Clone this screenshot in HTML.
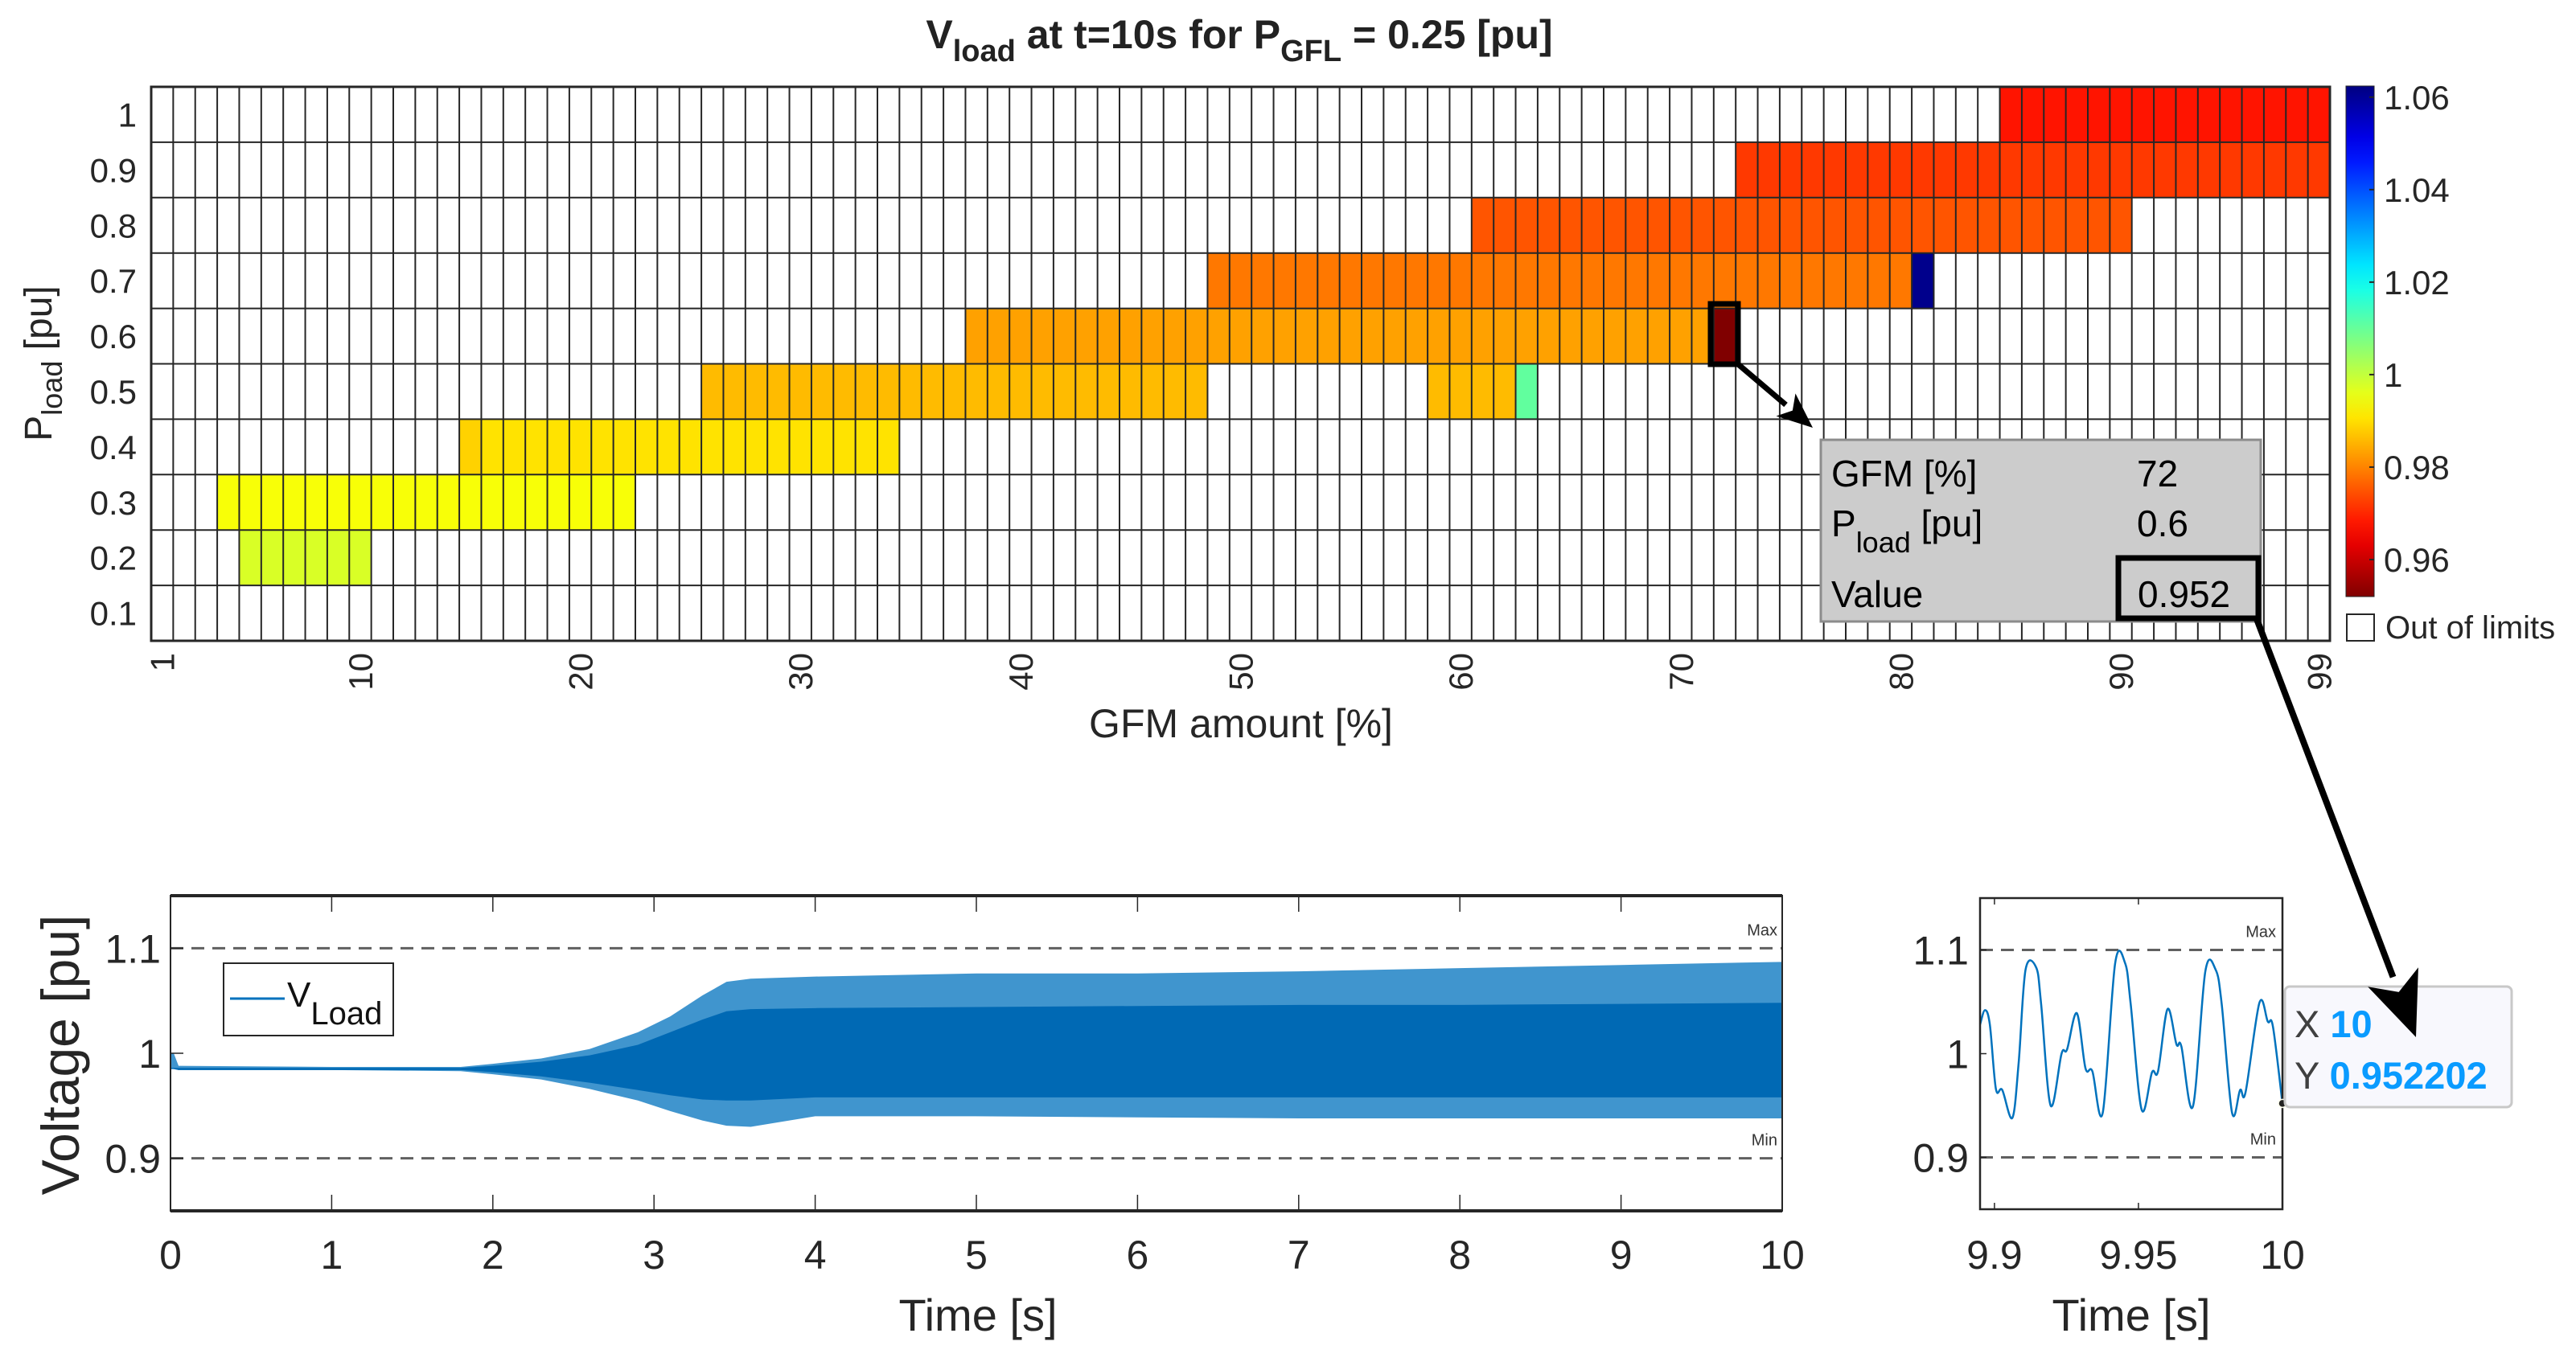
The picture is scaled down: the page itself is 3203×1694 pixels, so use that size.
<!DOCTYPE html>
<html><head><meta charset="utf-8"><style>
html,body{margin:0;padding:0;background:#fff}
svg{display:block;font-family:"Liberation Sans",Arial,sans-serif}
</style></head><body>
<svg id="fig" width="3203" height="1694" viewBox="0 0 3203 1694" xmlns="http://www.w3.org/2000/svg">
<rect x="0" y="0" width="3203" height="1694" fill="#fff"/>
<text x="1541" y="60" text-anchor="middle" font-size="50" font-weight="bold" fill="#222">V<tspan font-size="38" dy="16">load</tspan><tspan dy="-16"> at t=10s for P</tspan><tspan font-size="38" dy="16">GFL</tspan><tspan dy="-16"> = 0.25 [pu]</tspan></text>
<g id="heat"></g>
<g id="cbar"></g>
<g id="ts"></g>
<g id="zoomp"></g>
<g id="ann"></g>
</svg>
<script>
// ---------- heatmap data ----------
const gfmCategories = Array.from({length:99},(_,i)=>i+1);
const ploadCategories = [0.1,0.2,0.3,0.4,0.5,0.6,0.7,0.8,0.9,1];
const xTickLabels = [1,10,20,30,40,50,60,70,80,90,99];
const segRow   = [0.2,0.3,0.4,0.4,0.5,0.5,0.5,0.6,0.6,0.7,0.7,0.8,0.9,1.0];
const segStart = [5,4,15,16,26,59,63,38,72,49,81,61,73,85];
const segEnd   = [10,22,15,34,48,62,63,71,72,80,81,90,99,99];
const segValue = [0.9975,0.9942,0.9885,0.9904,0.986,0.986,1.0105,0.9832,0.952,0.9788,1.061,0.975,0.972,0.968];
const cbTicks = [0.96,0.98,1,1.02,1.04,1.06];
const cMin = 0.952, cMax = 1.0624;
// ---------- time-series data ----------
const envT      = [0,0.02,0.05,1,1.8,2.0,2.3,2.6,2.9,3.1,3.3,3.45,3.6,4,5,6,7,8,9,10];
const envUpper  = [1.0,1.0,0.988,0.987,0.987,0.99,0.995,1.004,1.02,1.035,1.055,1.068,1.071,1.073,1.076,1.076,1.078,1.081,1.084,1.087];
const envLower  = [0.985,0.985,0.984,0.984,0.983,0.98,0.975,0.966,0.955,0.945,0.936,0.931,0.93,0.94,0.94,0.939,0.938,0.938,0.938,0.938];
const coreUpper = [0.986,0.986,0.986,0.986,0.986,0.988,0.992,0.998,1.008,1.02,1.032,1.04,1.042,1.043,1.044,1.045,1.046,1.046,1.047,1.048];
const coreLower = [0.985,0.985,0.984,0.984,0.984,0.982,0.978,0.972,0.965,0.96,0.956,0.955,0.955,0.958,0.958,0.958,0.958,0.958,0.958,0.958];
const tsXTicks = [0,1,2,3,4,5,6,7,8,9,10];
const tsYTicks = [0.9,1,1.1];
const zoomT = [9.895,9.8967,9.8984,9.9005,9.9027,9.9062,9.9084,9.9108,9.9145,9.9162,9.9195,9.9233,9.9252,9.9286,9.9316,9.934,9.9376,9.9419,9.9454,9.9473,9.9511,9.9547,9.9568,9.9601,9.9632,9.9649,9.9689,9.9732,9.9768,9.9789,9.9825,9.9853,9.9872,9.992,9.9949,9.9967,10.0];
const zoomV = [1.028,1.042,1.028,0.966,0.965,0.938,0.991,1.081,1.083,1.048,0.950,1.0,1.004,1.039,0.986,0.983,0.943,1.087,1.087,1.048,0.946,0.982,0.983,1.043,1.009,1.007,0.949,1.079,1.081,1.048,0.943,0.965,0.963,1.049,1.031,1.026,0.952];
const zoomXTicks = [9.9,9.95,10];
const zoomXLabels = ["9.9","9.95","10"];
const limitMax = 1.1, limitMin = 0.9;

const NS="http://www.w3.org/2000/svg";
function mk(tag,attrs,parent,txt){const e=document.createElementNS(NS,tag);for(const k in attrs)e.setAttribute(k,attrs[k]);if(txt!==undefined)e.textContent=txt;parent.appendChild(e);return e;}
function clamp(v){return Math.max(0,Math.min(1,v));}
function jet(t){const r=clamp(1.5-Math.abs(4*t-3)),g=clamp(1.5-Math.abs(4*t-2)),b=clamp(1.5-Math.abs(4*t-1));
 return `rgb(${Math.round(r*255)},${Math.round(g*255)},${Math.round(b*255)})`;}
function colorOf(v){return jet((cMax-v)/(cMax-cMin));}

// ---------- heatmap ----------
const heat=document.getElementById('heat');
const HX0=188,HX1=2897,HY0=108,HY1=797;
const cw=(HX1-HX0)/gfmCategories.length, rh=(HY1-HY0)/ploadCategories.length;
const hx=c=>HX0+(c-1)*cw;
const hy=p=>HY1-(Math.round(p*10))*rh;
for(let i=0;i<segRow.length;i++){
  for(let c=segStart[i];c<=segEnd[i];c++){
    const r=mk('rect',{x:hx(c),y:hy(segRow[i]),width:cw,height:rh,fill:colorOf(segValue[i])},heat);
    
    
  }
}
const grid=mk('g',{stroke:'#262626','stroke-width':2},heat);


for(let c=0;c<=gfmCategories.length;c++) mk('line',{x1:HX0+c*cw,x2:HX0+c*cw,y1:HY0,y2:HY1},grid);
for(let r=0;r<=ploadCategories.length;r++) mk('line',{x1:HX0,x2:HX1,y1:HY0+r*rh,y2:HY0+r*rh},grid);
mk('rect',{x:HX0,y:HY0,width:HX1-HX0,height:HY1-HY0,fill:'none',stroke:'#262626','stroke-width':3},heat);
ploadCategories.forEach(p=>{
  const t=mk('text',{x:170,y:hy(p)+rh/2+15,'text-anchor':'end','font-size':42,fill:'#262626'},heat,String(p));
  
  
});
xTickLabels.forEach(v=>{
  const x=hx(v)+cw/2+15;
  const t=mk('text',{x:x,y:812,transform:`rotate(-90 ${x} 812)`,'text-anchor':'end','font-size':42,fill:'#262626'},heat,String(v));
  
  
});
let t=mk('text',{x:1543,y:917,'text-anchor':'middle','font-size':50,fill:'#262626'},heat,'GFM amount [%]');


t=mk('text',{x:64,y:452,transform:'rotate(-90 64 452)','text-anchor':'middle','font-size':48,fill:'#262626'},heat);
t.innerHTML='P<tspan font-size="36" dy="13">load</tspan><tspan dy="-13"> [pu]</tspan>';



// ---------- colorbar ----------
const cb=document.getElementById('cbar');
const CX=2917,CW=35,CY0=107,CY1=742;
const cy=v=>CY1-(v-cMin)/(cMax-cMin)*(CY1-CY0);
const defs=mk('defs',{},cb);
const lg=mk('linearGradient',{id:'jetg',x1:0,y1:0,x2:0,y2:1},defs);
for(let i=0;i<=20;i++){mk('stop',{offset:i/20,'stop-color':jet(i/20)},lg);}
mk('rect',{x:CX,y:CY0,width:CW,height:CY1-CY0,fill:'url(#jetg)',stroke:'#262626','stroke-width':1},cb);
cbTicks.forEach(v=>{
  mk('line',{x1:CX+CW-6,x2:CX+CW,y1:cy(v),y2:cy(v),stroke:'#262626','stroke-width':2},cb);
  const tt=mk('text',{x:2964,y:cy(v)+15,'font-size':42,fill:'#262626'},cb,String(v));
  
  
});
let r=mk('rect',{x:2918,y:764,width:34,height:33,fill:'#fff',stroke:'#262626','stroke-width':2},cb);


t=mk('text',{x:2966,y:794,'font-size':40,fill:'#262626'},cb,'Out of limits');



// ---------- time series ----------
const ts=document.getElementById('ts');
const AX0=212,AX1=2216,AY0=1114,AY1=1506,YMIN=0.85,YMAX=1.15;
const sx=v=>AX0+v/10*(AX1-AX0);
const sy=v=>AY1-(v-YMIN)/(YMAX-YMIN)*(AY1-AY0);
function band(up,lo,fill,op,name){
  let d='M'+envT.map((tt,i)=>sx(tt)+','+sy(up[i])).join(' L');
  for(let i=envT.length-1;i>=0;i--) d+=' L'+sx(envT[i])+','+sy(lo[i]);
  const p=mk('path',{d:d+'Z',fill:fill,'fill-opacity':op},ts);
  
  
}
band(envUpper,envLower,'#0072BD',0.75,'v-load-envelope');
band(coreUpper,coreLower,'#0069b4',1,'v-load-core');
[limitMax,limitMin].forEach((v,i)=>{
  const l=mk('line',{x1:AX0,x2:AX1,y1:sy(v),y2:sy(v),stroke:'#606060','stroke-width':3,'stroke-dasharray':'16 10'},ts);
  
  
  const tx=mk('text',{x:AX1-6,y:sy(v)-16,'text-anchor':'end','font-size':20,fill:'#333'},ts,i?'Min':'Max');
  
  
});
mk('rect',{x:AX0,y:AY0,width:AX1-AX0,height:AY1-AY0,fill:'none',stroke:'#262626','stroke-width':2},ts);
mk('line',{x1:AX0,x2:AX1,y1:AY0,y2:AY0,stroke:'#262626','stroke-width':4},ts);
mk('line',{x1:AX0,x2:AX1,y1:AY1,y2:AY1,stroke:'#262626','stroke-width':4},ts);
tsXTicks.forEach(v=>{
  mk('line',{x1:sx(v),x2:sx(v),y1:AY0,y2:AY0+20,stroke:'#262626','stroke-width':1.5},ts);
  mk('line',{x1:sx(v),x2:sx(v),y1:AY1,y2:AY1-20,stroke:'#262626','stroke-width':1.5},ts);
  const tt=mk('text',{x:sx(v),y:1578,'text-anchor':'middle','font-size':50,fill:'#262626'},ts,String(v));
  
  
});
tsYTicks.forEach(v=>{
  mk('line',{x1:AX0,x2:AX0+16,y1:sy(v),y2:sy(v),stroke:'#262626','stroke-width':1.5},ts);
  const tt=mk('text',{x:200,y:sy(v)+18,'text-anchor':'end','font-size':50,fill:'#262626'},ts,String(v));
  
  
});
t=mk('text',{x:1216,y:1655,'text-anchor':'middle','font-size':56,fill:'#262626'},ts,'Time [s]');


t=mk('text',{x:98,y:1312,transform:'rotate(-90 98 1312)','text-anchor':'middle','font-size':66,fill:'#262626'},ts,'Voltage [pu]');


const leg=mk('g',{},ts);


mk('rect',{x:278,y:1198,width:211,height:90,fill:'#fff',stroke:'#262626','stroke-width':2},leg);
mk('line',{x1:286,x2:354,y1:1242,y2:1242,stroke:'#0072BD','stroke-width':3},leg);
t=mk('text',{x:357,y:1252,'font-size':44,fill:'#111'},leg);
t.innerHTML='V<tspan font-size="40" dy="22">Load</tspan>';

// ---------- zoomed plot ----------
const zp=document.getElementById('zoomp');
const ZX0=2462,ZX1=2838,ZY0=1117,ZY1=1504,ZT0=9.895,ZT1=10;
const zx=v=>ZX0+(v-ZT0)/(ZT1-ZT0)*(ZX1-ZX0);
const zy=v=>ZY1-(v-YMIN)/(YMAX-YMIN)*(ZY1-ZY0);
[limitMax,limitMin].forEach((v,i)=>{
  const l=mk('line',{x1:ZX0,x2:ZX1,y1:zy(v),y2:zy(v),stroke:'#606060','stroke-width':3,'stroke-dasharray':'16 10'},zp);
  
  
  const tx=mk('text',{x:ZX1-8,y:zy(v)-16,'text-anchor':'end','font-size':20,fill:'#333'},zp,i?'Min':'Max');
  
  
});
// smooth Catmull-Rom path through data points
const zpts=zoomT.map((tt,i)=>[zx(tt),zy(zoomV[i])]);
let zd='M'+zpts[0][0]+','+zpts[0][1];
for(let i=0;i<zpts.length-1;i++){
  const p0=zpts[Math.max(0,i-1)],p1=zpts[i],p2=zpts[i+1],p3=zpts[Math.min(zpts.length-1,i+2)];
  const c1x=p1[0]+(p2[0]-p0[0])/6,c1y=p1[1]+(p2[1]-p0[1])/6;
  const c2x=p2[0]-(p3[0]-p1[0])/6,c2y=p2[1]-(p3[1]-p1[1])/6;
  zd+=` C${c1x},${c1y} ${c2x},${c2y} ${p2[0]},${p2[1]}`;
}
const zl=mk('path',{d:zd,fill:'none',stroke:'#0072BD','stroke-width':2.5,'stroke-linejoin':'round'},zp);


mk('rect',{x:ZX0,y:ZY0,width:ZX1-ZX0,height:ZY1-ZY0,fill:'none',stroke:'#262626','stroke-width':2.5},zp);
zoomXTicks.forEach((v,i)=>{
  mk('line',{x1:zx(v),x2:zx(v),y1:ZY1,y2:ZY1-8,stroke:'#262626','stroke-width':1.5},zp);
  mk('line',{x1:zx(v),x2:zx(v),y1:ZY0,y2:ZY0+8,stroke:'#262626','stroke-width':1.5},zp);
  const tt=mk('text',{x:zx(v),y:1578,'text-anchor':'middle','font-size':50,fill:'#262626'},zp,zoomXLabels[i]);
  
  
});
tsYTicks.forEach(v=>{
  mk('line',{x1:ZX0,x2:ZX0+8,y1:zy(v),y2:zy(v),stroke:'#262626','stroke-width':1.5},zp);
  const tt=mk('text',{x:2448,y:zy(v)+18,'text-anchor':'end','font-size':50,fill:'#262626'},zp,String(v));
  
  
});
t=mk('text',{x:2650,y:1655,'text-anchor':'middle','font-size':56,fill:'#262626'},zp,'Time [s]');


mk('circle',{cx:zx(zoomT[zoomT.length-1]),cy:zy(zoomV[zoomV.length-1]),r:5,fill:'#222',stroke:'#ffe',"stroke-width":1.5},zp);

// ---------- annotations ----------
const an=document.getElementById('ann');
const tip=mk('g',{},an);


mk('rect',{x:2264,y:547,width:547,height:226,fill:'#cccccc',stroke:'#8c8c8c','stroke-width':3},tip);
mk('text',{x:2277,y:605,'font-size':46,fill:'#000'},tip,'GFM [%]');
mk('text',{x:2657,y:605,'font-size':46,fill:'#000'},tip,'72');
t=mk('text',{x:2277,y:667,'font-size':46,fill:'#000'},tip);
t.innerHTML='P<tspan font-size="36" dy="20">load</tspan><tspan dy="-20"> [pu]</tspan>';
mk('text',{x:2657,y:667,'font-size':46,fill:'#000'},tip,'0.6');
mk('text',{x:2277,y:755,'font-size':46,fill:'#000'},tip,'Value');
mk('text',{x:2658,y:755,'font-size':46,fill:'#000'},tip,'0.952');
r=mk('rect',{x:2634,y:694,width:174,height:75,fill:'none',stroke:'#000','stroke-width':7},an);


r=mk('rect',{x:2127,y:378,width:34,height:75,fill:'none',stroke:'#000','stroke-width':7},an);


const dt=mk('g',{},an);


mk('rect',{x:2841,y:1227,width:282,height:150,rx:6,fill:'#f8f8fd',stroke:'#c8c8c8','stroke-width':3},dt);
t=mk('text',{x:2853,y:1290,'font-size':47,fill:'#404040'},dt);
t.innerHTML='X <tspan fill="#0a9bff" font-weight="bold">10</tspan>';
t=mk('text',{x:2853,y:1354,'font-size':47,fill:'#404040'},dt);
t.innerHTML='Y <tspan fill="#0a9bff" font-weight="bold">0.952202</tspan>';
function arrow(x1,y1,x2,y2,w,hl,name){
  const g=mk('g',{},an);
  
  
  const a=Math.atan2(y2-y1,x2-x1),bx=x2-hl*Math.cos(a),by=y2-hl*Math.sin(a);
  mk('line',{x1:x1,y1:y1,x2:bx,y2:by,stroke:'#000','stroke-width':w},g);
  const hw=hl*0.42,px=-Math.sin(a),py=Math.cos(a);
  mk('polygon',{points:`${x2},${y2} ${bx+px*hw},${by+py*hw} ${bx+hl*0.25*Math.cos(a)},${by+hl*0.25*Math.sin(a)} ${bx-px*hw},${by-py*hw}`,fill:'#000'},g);
}
arrow(2160,452,2254,532,7,44,'cell-to-tip-arrow');
arrow(2806,770,3004,1290,8,80,'value-to-datatip-arrow');
</script>
</body></html>
